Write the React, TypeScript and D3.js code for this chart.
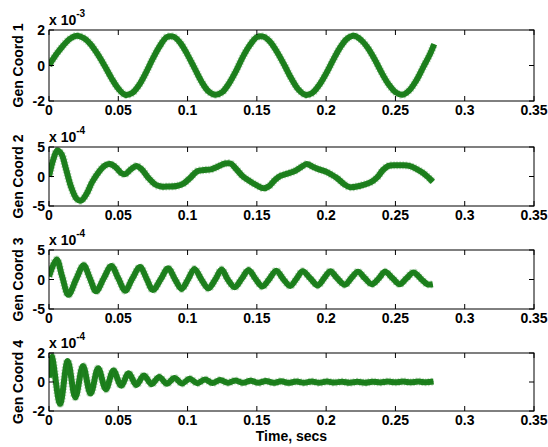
import React from "react";
import * as d3 from "d3";

// ---- data (values scaled by the axis exponent) ----
const xTickValues = [0, 0.05, 0.1, 0.15, 0.2, 0.25, 0.3, 0.35];
const xTickLabels = ["0", "0.05", "0.1", "0.15", "0.2", "0.25", "0.3", "0.35"];

const t1 = [0, 0.005, 0.01, 0.015, 0.02, 0.025, 0.03, 0.035, 0.04, 0.045, 0.05, 0.055, 0.06, 0.065, 0.07, 0.075, 0.08, 0.085, 0.09, 0.095, 0.1, 0.105, 0.11, 0.115, 0.12, 0.125, 0.13, 0.135, 0.14, 0.145, 0.15, 0.155, 0.16, 0.165, 0.17, 0.175, 0.18, 0.185, 0.19, 0.195, 0.2, 0.205, 0.21, 0.215, 0.22, 0.225, 0.23, 0.235, 0.24, 0.245, 0.25, 0.255, 0.26, 0.265, 0.27, 0.275, 0.278];
const y1 = [0, 0.6, 1.1, 1.5, 1.67, 1.55, 1.2, 0.65, 0.0, -0.7, -1.3, -1.65, -1.55, -1.1, -0.4, 0.4, 1.1, 1.6, 1.62, 1.25, 0.6, -0.15, -0.9, -1.45, -1.65, -1.5, -1.0, -0.3, 0.5, 1.15, 1.6, 1.62, 1.3, 0.7, 0.0, -0.75, -1.35, -1.65, -1.55, -1.1, -0.45, 0.3, 1.0, 1.5, 1.67, 1.45, 1.0, 0.35, -0.4, -1.05, -1.5, -1.65, -1.4, -0.85, -0.1, 0.65, 1.2];

const t2 = [0, 0.003, 0.006, 0.009, 0.012, 0.016, 0.02, 0.023, 0.027, 0.031, 0.036, 0.04, 0.044, 0.048, 0.052, 0.055, 0.059, 0.063, 0.067, 0.072, 0.077, 0.081, 0.086, 0.092, 0.097, 0.102, 0.107, 0.112, 0.117, 0.122, 0.127, 0.131, 0.135, 0.14, 0.145, 0.15, 0.155, 0.159, 0.163, 0.167, 0.172, 0.177, 0.182, 0.186, 0.19, 0.195, 0.2, 0.204, 0.208, 0.213, 0.217, 0.222, 0.227, 0.232, 0.237, 0.241, 0.245, 0.25, 0.255, 0.26, 0.265, 0.27, 0.274, 0.277];
const y2 = [0, 2.8, 4.4, 3.8, 1.5, -1.8, -3.8, -4.1, -3.0, -1.0, 0.8, 1.8, 2.1, 1.6, 0.6, 0.4, 1.2, 1.8, 1.2, -0.3, -1.4, -1.7, -1.7, -1.6, -1.2, -0.2, 0.9, 1.1, 1.2, 1.7, 2.2, 2.2, 1.3, 0.0, -0.8, -1.5, -2.0, -1.6, -0.6, 0.1, 0.5, 0.9, 1.6, 2.1, 1.7, 1.2, 0.8, 0.3, -0.3, -1.3, -1.8, -1.7, -1.4, -1.0, -0.1, 1.1, 1.8, 1.9, 1.9, 1.8, 1.3, 0.6, -0.2, -0.9];

const t3 = [0, 0.0055, 0.0095, 0.014, 0.0195, 0.025, 0.0295, 0.034, 0.0395, 0.045, 0.05, 0.055, 0.06, 0.0657, 0.0705, 0.075, 0.0805, 0.086, 0.091, 0.0957, 0.1003, 0.105, 0.11, 0.115, 0.12, 0.1246, 0.129, 0.134, 0.139, 0.144, 0.149, 0.154, 0.159, 0.164, 0.169, 0.174, 0.1785, 0.183, 0.1885, 0.194, 0.1985, 0.203, 0.208, 0.2136, 0.218, 0.223, 0.228, 0.233, 0.238, 0.2425, 0.248, 0.253, 0.258, 0.263, 0.2685, 0.273, 0.277];
const y3 = [0.5, 3.4, 0.5, -2.6, 0.0, 2.4, 0.2, -2.0, 0.2, 2.3, 0.2, -1.9, 0.1, 2.1, 0.1, -1.8, 0.0, 1.9, 0.0, -1.6, 0.0, 1.8, 0.0, -1.5, 0.0, 1.7, 0.0, -1.3, 0.1, 1.6, 0.1, -1.2, 0.1, 1.5, 0.1, -1.1, 0.1, 1.4, 0.2, -1.0, 0.2, 1.4, 0.2, -0.9, 0.2, 1.3, 0.2, -0.8, 0.2, 1.3, 0.2, -0.8, 0.2, 1.2, 0.1, -0.8, -0.8];

const t4 = [0, 0.002, 0.008, 0.0135, 0.019, 0.0245, 0.03, 0.0355, 0.041, 0.0465, 0.052, 0.0575, 0.063, 0.0685, 0.074, 0.0795, 0.085, 0.0905, 0.096, 0.1015, 0.107, 0.1125, 0.118, 0.1235, 0.129, 0.1345, 0.14, 0.1455, 0.151, 0.1565, 0.162, 0.1675, 0.173, 0.1785, 0.184, 0.1895, 0.195, 0.2005, 0.206, 0.2115, 0.217, 0.2225, 0.228, 0.2335, 0.239, 0.2445, 0.25, 0.2555, 0.261, 0.2665, 0.272, 0.2775];
const y4 = [0.3, 1.75, -1.5, 1.45, -1.05, 1.1, -0.8, 0.95, -0.5, 0.8, -0.25, 0.6, -0.2, 0.45, -0.15, 0.35, -0.12, 0.28, -0.1, 0.22, -0.08, 0.18, -0.07, 0.14, -0.06, 0.11, -0.06, 0.09, -0.06, 0.07, -0.06, 0.05, -0.06, 0.04, -0.05, 0.03, -0.05, 0.03, -0.04, 0.02, -0.05, 0.01, -0.05, 0.02, -0.03, 0.03, -0.02, 0.03, -0.02, 0.03, -0.02, 0.03];

const panelLabels = ["Gen Coord 1", "Gen Coord 2", "Gen Coord 3", "Gen Coord 4"];
const panelExponents = ["-3", "-4", "-4", "-4"];
const panelYTicks = [[-2, 0, 2], [-5, 0, 5], [-5, 0, 5], [-2, 0, 2]];
const panelTimes = [t1, t2, t3, t4];
const panelValues = [y1, y2, y3, y4];

// ---- layout ----
const W = 548;
const H = 447;
const LEFT = 49;
const RIGHT = 534;
const panelBoxes = [
  { top: 30, bottom: 101 },
  { top: 147, bottom: 206 },
  { top: 250, bottom: 309 },
  { top: 353, bottom: 411 },
];
const FONT = "'Liberation Sans', Arial, Helvetica, sans-serif";
const TICK = 5;
const FS = 14;

export default function App() {
  const x = d3.scaleLinear().domain([0, 0.35]).range([LEFT, RIGHT]);
  return (
    <svg
      width={W}
      height={H}
      style={{ position: "absolute", left: 0, top: 0, background: "#fff" }}
      fontFamily={FONT}
      fontWeight="bold"
    >
      <rect x={0} y={0} width={W} height={H} fill="#fff" />
      {panelBoxes.map((box, i) => {
        const ticks = panelYTicks[i];
        const y = d3
          .scaleLinear()
          .domain([ticks[0], ticks[ticks.length - 1]])
          .range([box.bottom, box.top]);
        const pts: [number, number][] = panelTimes[i].map((t, k) => [t, panelValues[i][k]]);
        const line = d3
          .line<[number, number]>()
          .x((d) => x(d[0]))
          .y((d) => y(d[1]))
          .curve(d3.curveCatmullRom.alpha(0.5));
        const path = line(pts) || "";
        const clipId = `clip${i}`;
        const midY = (box.top + box.bottom) / 2;
        return (
          <g key={i}>
            <defs>
              <clipPath id={clipId}>
                <rect x={LEFT} y={box.top} width={RIGHT - LEFT} height={box.bottom - box.top} />
              </clipPath>
            </defs>
            <g clipPath={`url(#${clipId})`}>
              <path d={path} fill="none" stroke="#7db27d" strokeWidth={8} opacity={0.45} strokeDasharray="1.5 1.5" />
              <path d={path} fill="none" stroke="#1d801d" strokeWidth={6} strokeLinejoin="round" />
              <path d={path} fill="none" stroke="#187418" strokeWidth={1} opacity={0.6} />
            </g>
            <rect
              x={LEFT}
              y={box.top}
              width={RIGHT - LEFT}
              height={box.bottom - box.top}
              fill="none"
              stroke="#000"
              strokeWidth={1}
            />
            {xTickValues.map((v, k) => (
              <g key={`x${k}`}>
                <line x1={x(v)} x2={x(v)} y1={box.bottom} y2={box.bottom - TICK} stroke="#000" />
                <line x1={x(v)} x2={x(v)} y1={box.top} y2={box.top + TICK} stroke="#000" />
                <text x={x(v)} y={box.bottom + 14} fontSize={FS} textAnchor="middle" fill="#000">
                  {xTickLabels[k]}
                </text>
              </g>
            ))}
            {ticks.map((v, k) => (
              <g key={`y${k}`}>
                <line x1={LEFT} x2={LEFT + TICK} y1={y(v)} y2={y(v)} stroke="#000" />
                <line x1={RIGHT} x2={RIGHT - TICK} y1={y(v)} y2={y(v)} stroke="#000" />
                <text x={LEFT - 4} y={y(v) + 5} fontSize={FS} textAnchor="end" fill="#000">
                  {String(v)}
                </text>
              </g>
            ))}
            <text x={LEFT} y={box.top - 5} fontSize={FS} fill="#000">
              x 10
              <tspan dy={-8} fontSize={10}>
                {panelExponents[i]}
              </tspan>
            </text>
            <text
              transform={`translate(${23},${midY}) rotate(-90)`}
              fontSize={FS}
              textAnchor="middle"
              fill="#000"
            >
              {panelLabels[i]}
            </text>
          </g>
        );
      })}
      <text x={(LEFT + RIGHT) / 2} y={441} fontSize={FS} textAnchor="middle" fill="#000">
        Time, secs
      </text>
    </svg>
  );
}
